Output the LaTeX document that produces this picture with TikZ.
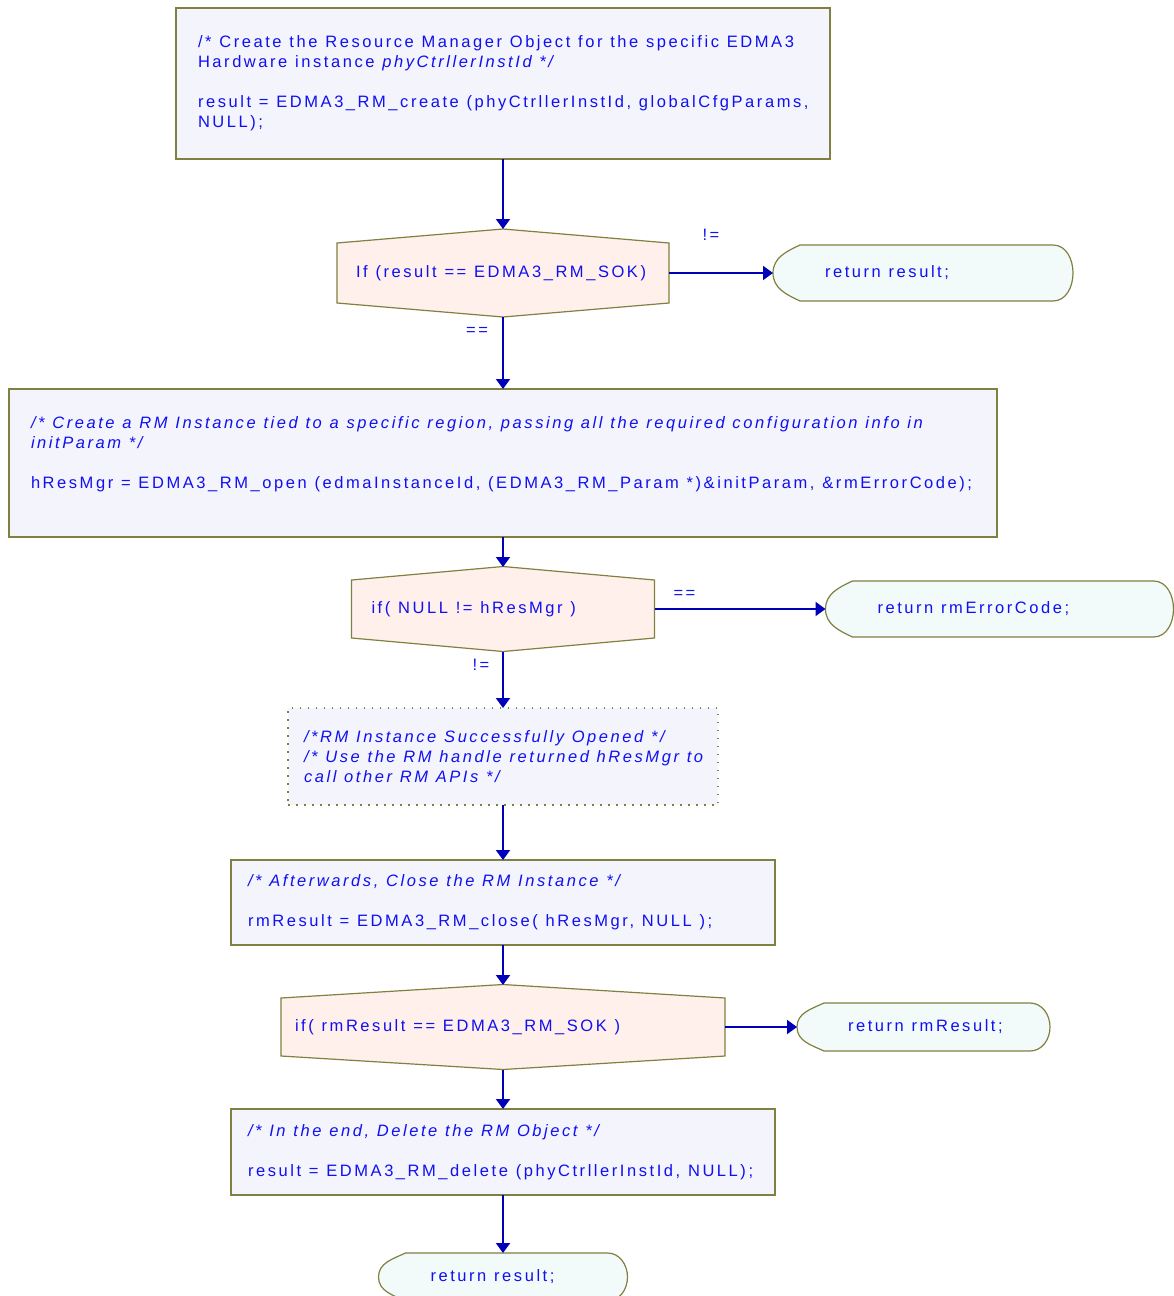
\documentclass[tikz,border=0pt]{standalone}
\usepackage{fontspec}
\setmainfont{Liberation Sans}[LetterSpace=15.5]
\usetikzlibrary{arrows.meta, positioning, backgrounds}

\definecolor{boxline}{HTML}{808040}
\definecolor{boxfill}{HTML}{F4F4FC}
\definecolor{decfill}{HTML}{FFF0EC}
\definecolor{termfill}{HTML}{F2FBFA}
\definecolor{txtblue}{HTML}{1010F0}
\definecolor{edgeblue}{HTML}{0000BB}

\newcommand{\flowfont}{\fontsize{16.5}{20}\selectfont}
% hexagon round a decision node, #2 = height of the peaks
\newcommand{\decshape}[2]{%
  \draw[decline] (#1.north west) -- ([yshift=#2]#1.north) -- (#1.north east)
    -- (#1.south east) -- ([yshift=-#2]#1.south) -- (#1.south west) -- cycle;}
% terminal outline: curved left end, rounded right end
\newcommand{\termshape}[1]{%
  \draw[termline] ([xshift=27pt]#1.north west) to[out=205,in=90] (#1.west)
    to[out=-90,in=155] ([xshift=27pt]#1.south west)
    -- ([xshift=-20pt]#1.south east) to[out=0,in=-90] (#1.east)
    to[out=90,in=0] ([xshift=-20pt]#1.north east) -- cycle;}

\begin{document}
\begin{tikzpicture}[
  every node/.style={outer sep=0pt},
  txt/.style={align=left, font=\flowfont, text=txtblue, inner ysep=0pt,
              execute at begin node={\spaceskip=7.8pt\xspaceskip=7.8pt\relax}},
  box/.style={txt, draw=boxline, fill=boxfill, line width=1.2pt},
  note/.style={box, dash pattern=on 1.5pt off 6.5pt},
  dec/.style={txt},
  term/.style={txt, inner xsep=52pt},
  decline/.style={draw=boxline, fill=decfill, line width=1.2pt},
  termline/.style={draw=boxline, fill=termfill, line width=1.2pt},
  arr/.style={-{Triangle[length=10pt,width=14pt]}, line width=2pt, draw=edgeblue},
  lbl/.style={font=\flowfont, text=txtblue, inner sep=0pt}]
  \useasboundingbox (0,0) rectangle (1173pt,-1296pt);

  \node[box, inner xsep=22pt, text width=610pt, minimum height=151pt] (create)
    at (503pt,-83.5pt)
    {/* Create the Resource Manager Object for the specific EDMA3\\
     Hardware instance \textit{phyCtrllerInstId */}\\[20pt]
     result = EDMA3\_RM\_create (phyCtrllerInstId, globalCfgParams,\\
     NULL);};
  \node[dec, inner xsep=19pt, text width=294pt, minimum height=60pt,
        below=84pt of create] (chkcreate)
    {If~(result~==~EDMA3\_RM\_SOK)};
  \node[term, text width=196pt, minimum height=56pt,
        right=104pt of chkcreate] (retcreate) {return~result;};

  \node[box, inner xsep=22pt, text width=944pt, minimum height=148pt,
        below=86pt of chkcreate] (open)
    {\textit{/* Create a RM Instance tied to a specific region, passing all the required configuration info in}\\
     \textit{initParam */}\\[20pt]
     hResMgr = EDMA3\_RM\_open (edmaInstanceId, (EDMA3\_RM\_Param *)\&initParam, \&rmErrorCode);\\
     \mbox{}};
  \node[dec, inner xsep=20pt, text width=263pt, minimum height=58pt,
        below=43pt of open] (chkopen)
    {if(~NULL~!=~hResMgr~)};
  \node[term, text width=244pt, minimum height=56pt,
        right=171pt of chkopen] (retopen) {return~rmErrorCode;};

  \node[note, inner xsep=16pt, text width=398pt, minimum height=97pt,
        below=70pt of chkopen] (opened)
    {\textit{/*RM Instance Successfully Opened */}\\
     \textit{/* Use the RM handle returned hResMgr~to}\\
     \textit{call other RM APIs */}};

  \node[box, inner xsep=17pt, text width=510pt, minimum height=85pt,
        below=55pt of opened] (close)
    {\textit{/* Afterwards, Close the RM Instance */}\\[20pt]
     rmResult = EDMA3\_RM\_close( hResMgr, NULL );};
  \node[dec, inner xsep=14pt, text width=416pt, minimum height=58pt,
        below=53pt of close] (chkclose)
    {if(~rmResult~==~EDMA3\_RM\_SOK~)};
  \node[term, inner xsep=51pt, text width=151pt, minimum height=48pt,
        right=72pt of chkclose] (retclose) {return~rmResult;};

  \node[box, inner xsep=17pt, text width=510pt, minimum height=86pt,
        below=53pt of chkclose] (delete)
    {\textit{/* In the end, Delete the RM Object */}\\[20pt]
     result = EDMA3\_RM\_delete (phyCtrllerInstId, NULL);};
  \node[term, text width=145pt, minimum height=48pt,
        below=58pt of delete] (retdelete) {return~result;};

  \coordinate (chkcreatetop) at ([yshift=14pt]chkcreate.north);
  \coordinate (chkcreatebot) at ([yshift=-14pt]chkcreate.south);
  \coordinate (chkopentop) at ([yshift=13pt]chkopen.north);
  \coordinate (chkopenbot) at ([yshift=-14pt]chkopen.south);
  \coordinate (chkclosetop) at ([yshift=13pt]chkclose.north);
  \coordinate (chkclosebot) at ([yshift=-14pt]chkclose.south);

  \begin{scope}[on background layer]
    \decshape{chkcreate}{14pt}
    \decshape{chkopen}{13.5pt}
    \decshape{chkclose}{13.5pt}
    \termshape{retcreate}
    \termshape{retopen}
    \termshape{retclose}
    \termshape{retdelete}
  \end{scope}

  \draw[arr] (create) -- (chkcreatetop);
  \draw[arr] (chkcreate) -- node[lbl, xshift=-10pt, yshift=38pt] {!=} (retcreate);
  \draw[arr] (chkcreatebot) -- node[lbl, pos=0.2, xshift=-26pt] {==} (open);
  \draw[arr] (open) -- (chkopentop);
  \draw[arr] (chkopen) -- node[lbl, pos=0.175, yshift=15pt] {==} (retopen);
  \draw[arr] (chkopenbot) -- node[lbl, pos=0.22, xshift=-22pt] {!=} (opened);
  \draw[arr] (opened) -- (close);
  \draw[arr] (close) -- (chkclosetop);
  \draw[arr] (chkclose) -- (retclose);
  \draw[arr] (chkclosebot) -- (delete);
  \draw[arr] (delete) -- (retdelete);
\end{tikzpicture}
\end{document}
